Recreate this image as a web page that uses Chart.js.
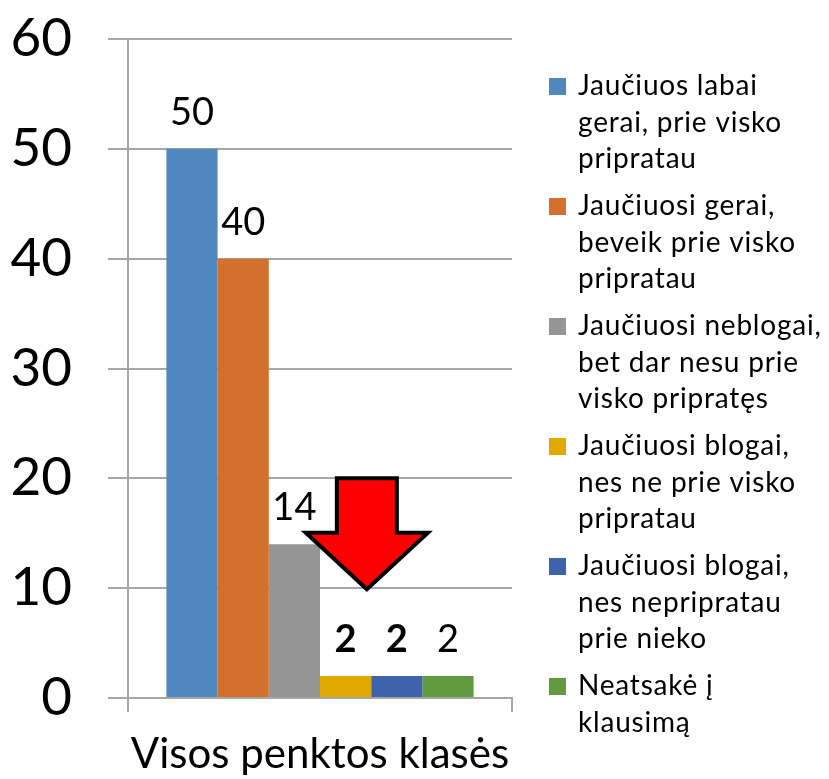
<!DOCTYPE html>
<html>
<head>
<meta charset="utf-8">
<script src="https://cdn.jsdelivr.net/npm/chart.js@4/dist/chart.umd.min.js"></script>
<style>
    html, body { margin: 0; padding: 0; background: #fff; }
    #wrap { width: 829px; height: 779px; }
</style>
</head>
<body>
<div id="wrap"><canvas id="chart" width="829" height="779"></canvas></div>
<script>
const categories = ["Visos penktos klasės"];
const seriesNames = [
    ["Jaučiuos labai", "gerai, prie visko", "pripratau"],
    ["Jaučiuosi gerai,", "beveik prie visko", "pripratau"],
    ["Jaučiuosi neblogai,", "bet dar nesu prie", "visko pripratęs"],
    ["Jaučiuosi blogai,", "nes ne prie visko", "pripratau"],
    ["Jaučiuosi blogai,", "nes nepripratau", "prie nieko"],
    ["Neatsakė į", "klausimą"],
];
const seriesValues = [50, 40, 14, 2, 2, 2];
const seriesColors = ["#4f88be", "#d3702c", "#959595", "#e1a800", "#3e63ad", "#629a3f"];
const labelBold = [false, false, false, true, true, false];
const yTicks = [0, 10, 20, 30, 40, 50, 60];

const FONT = "Lato, 'Open Sans', sans-serif";
const GRID = "#a6a6a6";

// value labels above each bar
const barLabels = {
    id: "barLabels",
    afterDatasetsDraw(chart) {
        const ctx = chart.ctx;
        ctx.save();
        ctx.fillStyle = "#000";
        ctx.textAlign = "center";
        ctx.textBaseline = "alphabetic";
        chart.data.datasets.forEach((ds, i) => {
            const bar = chart.getDatasetMeta(i).data[0];
            ctx.font = `${labelBold[i] ? "bold " : ""}38px ${FONT}`;
            ctx.fillText(String(ds.data[0]), bar.x, bar.y - 24);
        });
        ctx.restore();
    },
};

// red down arrow drawn over the plot
const downArrow = {
    id: "downArrow",
    afterDatasetsDraw(chart) {
        const ctx = chart.ctx;
        const x = chart.scales.x;
        const y = chart.scales.y;
        const cx = x.left + (x.right - x.left) * 0.622;
        const top = y.getPixelForValue(20);
        const base = y.getPixelForValue(15.05);
        const tip = y.getPixelForValue(9.9);
        const shaft = 30;
        const head = 61;
        ctx.save();
        ctx.beginPath();
        ctx.moveTo(cx - shaft, top);
        ctx.lineTo(cx + shaft, top);
        ctx.lineTo(cx + shaft, base);
        ctx.lineTo(cx + head, base);
        ctx.lineTo(cx, tip);
        ctx.lineTo(cx - head, base);
        ctx.lineTo(cx - shaft, base);
        ctx.closePath();
        ctx.fillStyle = "#ff0000";
        ctx.fill();
        ctx.lineWidth = 4;
        ctx.lineJoin = "miter";
        ctx.strokeStyle = "#000";
        ctx.stroke();
        ctx.restore();
    },
};

// legend with wrapped lines on the right
const sideLegend = {
    id: "sideLegend",
    afterDraw(chart) {
        const ctx = chart.ctx;
        const left = chart.chartArea.right + 37;
        ctx.save();
        ctx.font = `28px ${FONT}`;
        ctx.letterSpacing = "0.8px";
        ctx.textAlign = "left";
        ctx.textBaseline = "alphabetic";
        seriesNames.forEach((lines, i) => {
            const baseY = 95 + i * 120;
            ctx.fillStyle = seriesColors[i];
            ctx.fillRect(left, baseY - 17, 17, 17);
            ctx.fillStyle = "#000";
            lines.forEach((line, j) => {
                ctx.fillText(line, left + 29, baseY + j * 36.7);
            });
        });
        ctx.restore();
    },
};

const datasets = seriesNames.map((lines, i) => ({
    label: lines.join(" "),
    data: [seriesValues[i]],
    backgroundColor: seriesColors[i],
    borderWidth: 0,
    categoryPercentage: 0.8,
    barPercentage: 1.0,
}));

new Chart(document.getElementById("chart"), {
    type: "bar",
    data: { labels: categories, datasets },
    plugins: [barLabels, downArrow, sideLegend],
    options: {
        responsive: false,
        animation: false,
        layout: { padding: { top: 39, right: 317, bottom: 0, left: 0 } },
        plugins: {
            legend: { display: false },
            tooltip: { enabled: false },
        },
        scales: {
            x: {
                offset: true,
                grid: {
                    display: true,
                    drawOnChartArea: false,
                    drawTicks: true,
                    tickLength: 14,
                    color: GRID,
                    lineWidth: 2,
                },
                border: { display: true, color: GRID, width: 2 },
                ticks: {
                    color: "#000",
                    font: { family: FONT, size: 42 },
                    padding: 17,
                },
                afterFit(scale) {
                    scale.height = 81;
                    scale.paddingLeft = 0;
                    scale.paddingRight = 0;
                },
            },
            y: {
                min: 0,
                max: 60,
                afterBuildTicks(scale) {
                    scale.ticks = yTicks.map(v => ({ value: v }));
                },
                grid: {
                    color: GRID,
                    lineWidth: 2,
                    tickLength: 20,
                },
                border: { display: true, color: GRID, width: 2 },
                ticks: {
                    color: "#000",
                    font: { family: FONT, size: 53 },
                    padding: 36,
                },
                afterFit(scale) {
                    scale.width = 128;
                    scale.paddingTop = 0;
                    scale.paddingBottom = 0;
                },
            },
        },
    },
});
</script>
</body>
</html>
